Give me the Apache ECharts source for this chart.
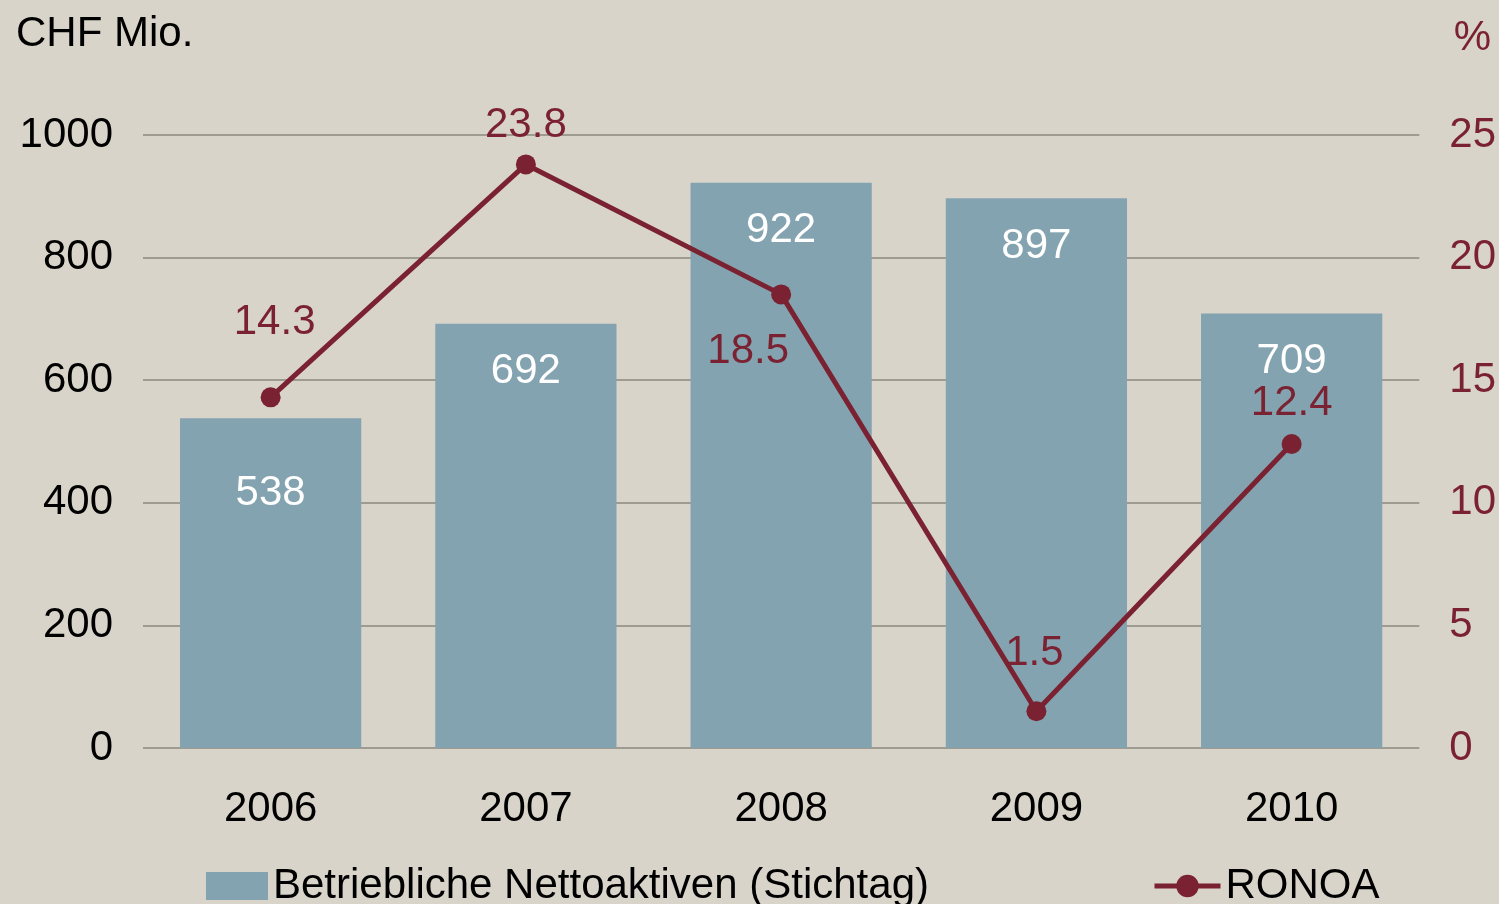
<!DOCTYPE html>
<html><head><meta charset="utf-8">
<script src="https://cdn.jsdelivr.net/npm/echarts@6/dist/echarts.min.js"></script>
<style>html,body{margin:0;padding:0;background:#d9d4c9;}#c{width:1499px;height:904px;}</style>
</head><body><div id="c"></div>
<script>
const categories = ['2006','2007','2008','2009','2010'];
const netAssets = [538, 692, 922, 897, 709];
const ronoa = [14.3, 23.8, 18.5, 1.5, 12.4];
const leftTicks = [0, 200, 400, 600, 800, 1000];
const rightTicks = [0, 5, 10, 15, 20, 25];

const FONT = 'Liberation Sans, Arial, sans-serif';
const FS = 42;
const RED = '#7a2232';
const BLUE = '#84a3b0';

const barData = netAssets.map((v, i) => i === 0 ? {value: v, label: {distance: 54}} : v);
const lineLabelCfg = [
  {position: 'top', distance: 44, offset: [4, 0]},
  {position: 'top', distance: 8},
  {position: 'bottom', distance: 26, offset: [-33, 0]},
  {position: 'top', distance: 27, offset: [-2, 0]},
  {position: 'top', distance: 10}
];
const lineData = ronoa.map((v, i) => ({value: v, label: lineLabelCfg[i]}));

const chart = echarts.init(document.getElementById('c'));
chart.setOption({
  backgroundColor: '#d9d4c9',
  animation: false,
  textStyle: {fontFamily: FONT},
  graphic: [
    {type: 'text', left: 16, top: 13, style: {text: 'CHF Mio.', font: FS + 'px ' + FONT, fill: '#000'}},
    {type: 'text', right: 8, top: 17, style: {text: '%', font: FS + 'px ' + FONT, fill: RED}}
  ],
  grid: {left: 143, right: 79, top: 135, bottom: 156},
  legend: [
    {data: [{name: 'Betriebliche Nettoaktiven (Stichtag)', icon: 'rect'}], left: 201, top: 860, itemWidth: 62, itemHeight: 28, itemGap: 12,
     textStyle: {fontSize: FS, color: '#000', fontFamily: FONT}},
    {data: ['RONOA'], left: 1147, top: 860, itemWidth: 66, itemHeight: 28, itemGap: 10,
     lineStyle: {width: 5},
     textStyle: {fontSize: FS, color: '#000', fontFamily: FONT}}
  ],
  xAxis: {
    type: 'category', data: categories,
    axisLine: {show: false}, axisTick: {show: false},
    axisLabel: {fontSize: FS, color: '#000', margin: 40, fontFamily: FONT}
  },
  yAxis: [
    {type: 'value', min: 0, max: 1000, interval: 200,
     axisLine: {show: false}, axisTick: {show: false},
     axisLabel: {fontSize: FS, color: '#000', margin: 30, fontFamily: FONT, formatter: v => String(v)},
     splitLine: {lineStyle: {color: '#9e9b90', width: 2}}},
    {type: 'value', min: 0, max: 25, interval: 5, position: 'right',
     axisLine: {show: false}, axisTick: {show: false},
     axisLabel: {fontSize: FS, color: RED, margin: 30, fontFamily: FONT},
     splitLine: {show: false}}
  ],
  series: [
    {name: 'Betriebliche Nettoaktiven (Stichtag)', type: 'bar', data: barData,
     barCategoryGap: '29%', itemStyle: {color: BLUE},
     label: {show: true, position: 'insideTop', distance: 27, color: '#fff', fontSize: FS, fontFamily: FONT}},
    {name: 'RONOA', type: 'line', yAxisIndex: 1, data: lineData,
     symbol: 'circle', symbolSize: 20,
     lineStyle: {color: RED, width: 5}, itemStyle: {color: RED},
     label: {show: true, color: RED, fontSize: FS, fontFamily: FONT, formatter: p => p.value.toFixed(1)}}
  ]
});
</script></body></html>
